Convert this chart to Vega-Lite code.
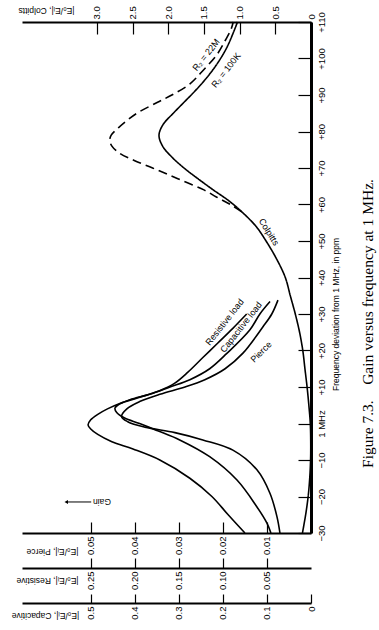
{
  "$schema": "https://vega.github.io/schema/vega-lite/v6.json",
  "width": 289,
  "height": 511,
  "autosize": {"type": "none"},
  "padding": {"left": 22, "top": 22, "right": 68, "bottom": 97},
  "background": "white",
  "title": {
    "text": "Figure 7.3.\u00a0\u00a0\u00a0\u00a0Gain versus frequency at 1 MHz.",
    "orient": "right",
    "angle": 270,
    "anchor": "middle",
    "offset": 6,
    "dx": -46,
    "font": "Liberation Serif",
    "fontSize": 15.5,
    "fontWeight": "normal",
    "color": "black"
  },
  "config": {
    "view": {"stroke": null},
    "axis": {
      "labelFont": "Liberation Sans",
      "labelFontSize": 9.5,
      "labelColor": "black",
      "titleFont": "Liberation Sans",
      "titleFontSize": 8.5,
      "titleFontWeight": "normal",
      "titleColor": "black",
      "domainColor": "black",
      "tickColor": "black",
      "tickWidth": 1.2,
      "grid": false,
      "labelFlush": false,
      "labelOverlap": false,
      "labelBound": false
    },
    "text": {"font": "Liberation Sans", "fontSize": 9, "color": "black"}
  },
  "datasets": {
    "colpitts": [
      {"s": "R2 = 100K", "f": -30, "g": 0.12},
      {"s": "R2 = 100K", "f": -25, "g": 0.075},
      {"s": "R2 = 100K", "f": -20, "g": 0.04},
      {"s": "R2 = 100K", "f": -15, "g": 0.018},
      {"s": "R2 = 100K", "f": -10, "g": 0.006},
      {"s": "R2 = 100K", "f": -5, "g": 0.004},
      {"s": "R2 = 100K", "f": 0, "g": 0.01},
      {"s": "R2 = 100K", "f": 5, "g": 0.03},
      {"s": "R2 = 100K", "f": 10, "g": 0.055},
      {"s": "R2 = 100K", "f": 15, "g": 0.085},
      {"s": "R2 = 100K", "f": 20, "g": 0.115},
      {"s": "R2 = 100K", "f": 25, "g": 0.16},
      {"s": "R2 = 100K", "f": 30, "g": 0.22},
      {"s": "R2 = 100K", "f": 35, "g": 0.29},
      {"s": "R2 = 100K", "f": 40, "g": 0.36},
      {"s": "R2 = 100K", "f": 45, "g": 0.48},
      {"s": "R2 = 100K", "f": 50, "g": 0.63},
      {"s": "R2 = 100K", "f": 54, "g": 0.77},
      {"s": "R2 = 100K", "f": 58, "g": 0.97},
      {"s": "R2 = 100K", "f": 61, "g": 1.15},
      {"s": "R2 = 100K", "f": 64, "g": 1.37},
      {"s": "R2 = 100K", "f": 67, "g": 1.58},
      {"s": "R2 = 100K", "f": 70, "g": 1.78},
      {"s": "R2 = 100K", "f": 73, "g": 1.95},
      {"s": "R2 = 100K", "f": 76, "g": 2.08},
      {"s": "R2 = 100K", "f": 79, "g": 2.13},
      {"s": "R2 = 100K", "f": 82, "g": 2.07},
      {"s": "R2 = 100K", "f": 85, "g": 1.93},
      {"s": "R2 = 100K", "f": 88, "g": 1.78},
      {"s": "R2 = 100K", "f": 91, "g": 1.63},
      {"s": "R2 = 100K", "f": 95, "g": 1.45},
      {"s": "R2 = 100K", "f": 99, "g": 1.3},
      {"s": "R2 = 100K", "f": 103, "g": 1.18},
      {"s": "R2 = 100K", "f": 107, "g": 1.09},
      {"s": "R2 = 100K", "f": 110, "g": 1.03},
      {"s": "R2 = 22M", "f": 58, "g": 0.97},
      {"s": "R2 = 22M", "f": 60, "g": 1.13},
      {"s": "R2 = 22M", "f": 62, "g": 1.32},
      {"s": "R2 = 22M", "f": 64, "g": 1.5},
      {"s": "R2 = 22M", "f": 66, "g": 1.74},
      {"s": "R2 = 22M", "f": 68, "g": 1.98},
      {"s": "R2 = 22M", "f": 70, "g": 2.22},
      {"s": "R2 = 22M", "f": 72, "g": 2.47},
      {"s": "R2 = 22M", "f": 74, "g": 2.68},
      {"s": "R2 = 22M", "f": 76, "g": 2.79},
      {"s": "R2 = 22M", "f": 77.5, "g": 2.82},
      {"s": "R2 = 22M", "f": 79, "g": 2.8},
      {"s": "R2 = 22M", "f": 81, "g": 2.7},
      {"s": "R2 = 22M", "f": 83, "g": 2.58},
      {"s": "R2 = 22M", "f": 85, "g": 2.44},
      {"s": "R2 = 22M", "f": 88, "g": 2.15},
      {"s": "R2 = 22M", "f": 90, "g": 1.95},
      {"s": "R2 = 22M", "f": 93, "g": 1.7},
      {"s": "R2 = 22M", "f": 97, "g": 1.5},
      {"s": "R2 = 22M", "f": 101, "g": 1.32},
      {"s": "R2 = 22M", "f": 105, "g": 1.2},
      {"s": "R2 = 22M", "f": 108, "g": 1.12},
      {"s": "R2 = 22M", "f": 110, "g": 1.09}
    ],
    "pierce": [
      {"f": -30, "g": 0.00705},
      {"f": -25.5, "g": 0.00773},
      {"f": -19.1, "g": 0.00932},
      {"f": -12.7, "g": 0.01227},
      {"f": -7.3, "g": 0.01773},
      {"f": -4.5, "g": 0.02455},
      {"f": -2.5, "g": 0.0309},
      {"f": -1, "g": 0.0377},
      {"f": 0.5, "g": 0.0416},
      {"f": 1.9, "g": 0.043},
      {"f": 4, "g": 0.0418},
      {"f": 6, "g": 0.0389},
      {"f": 8, "g": 0.0343},
      {"f": 10, "g": 0.0286},
      {"f": 12, "g": 0.0241},
      {"f": 15, "g": 0.0195},
      {"f": 19.2, "g": 0.0155},
      {"f": 26.5, "g": 0.0109},
      {"f": 30, "g": 0.0089},
      {"f": 33.8, "g": 0.0075}
    ],
    "resistive": [
      {"f": -30, "g": 0.075},
      {"f": -25, "g": 0.094},
      {"f": -20, "g": 0.1125},
      {"f": -15, "g": 0.1375},
      {"f": -10, "g": 0.1716},
      {"f": -7, "g": 0.202},
      {"f": -5, "g": 0.226},
      {"f": -3, "g": 0.242},
      {"f": -1.5, "g": 0.25},
      {"f": -0.4, "g": 0.253},
      {"f": 1, "g": 0.25},
      {"f": 2.5, "g": 0.242},
      {"f": 4, "g": 0.231},
      {"f": 5.5, "g": 0.217},
      {"f": 7, "g": 0.197},
      {"f": 9, "g": 0.172},
      {"f": 11, "g": 0.155},
      {"f": 14, "g": 0.14},
      {"f": 18, "g": 0.123},
      {"f": 22, "g": 0.106},
      {"f": 26, "g": 0.089},
      {"f": 30, "g": 0.073}
    ],
    "capacitive": [
      {"f": -30, "g": 0.091},
      {"f": -27.3, "g": 0.1},
      {"f": -22.8, "g": 0.123},
      {"f": -15.5, "g": 0.168},
      {"f": -9.1, "g": 0.23},
      {"f": -4.5, "g": 0.298},
      {"f": -2, "g": 0.348},
      {"f": 0, "g": 0.389},
      {"f": 1.5, "g": 0.423},
      {"f": 3, "g": 0.441},
      {"f": 4.2, "g": 0.445},
      {"f": 5, "g": 0.439},
      {"f": 6.5, "g": 0.411},
      {"f": 8, "g": 0.366},
      {"f": 10, "g": 0.32},
      {"f": 12, "g": 0.275},
      {"f": 15, "g": 0.23},
      {"f": 19.2, "g": 0.191},
      {"f": 25.6, "g": 0.139},
      {"f": 30, "g": 0.116},
      {"f": 33.4, "g": 0.093}
    ],
    "notes": [
      {"t": "R₂ = 22M", "g": 1.47, "f": 101},
      {"t": "R₂ = 100K", "g": 1.19, "f": 96.8},
      {"t": "Resistive load", "g": 1.21, "f": 27.8},
      {"t": "Capacitive load", "g": 0.98, "f": 26.4},
      {"t": "Pierce", "g": 0.7, "f": 19.6},
      {"t": "Colpitts", "g": 0.59, "f": 52.5},
      {"t": "Gain", "g": 2.93, "f": -21.5}
    ],
    "arrow": [
      {"g": 3.08, "g2": 3.43, "f": -21.5}
    ]
  },
  "encoding": {
    "y": {
      "field": "f",
      "type": "quantitative",
      "scale": {"domain": [-30, 110], "nice": false, "zero": false},
      "axis": {
        "orient": "right",
        "values": [-30, -20, -10, 0, 10, 20, 30, 40, 50, 60, 70, 80, 90, 100, 110],
        "labelExpr": "datum.value > 0 ? '+' + datum.value : (datum.value == 0 ? '1 MHz' : '−' + abs(datum.value))",
        "labelAngle": 270,
        "labelAlign": "center",
        "labelBaseline": "top",
        "tickSize": -13,
        "labelPadding": 18,
        "domainWidth": 3,
        "title": "Frequency deviation from 1 MHz, in ppm",
        "titleAngle": 270,
        "titleAlign": "center",
        "titleBaseline": "middle",
        "titleX": 24,
        "titleY": 292
      }
    }
  },
  "layer": [
    {
      "data": {"name": "colpitts"},
      "mark": {"type": "line", "interpolate": "catmull-rom", "strokeWidth": 1.6, "color": "black"},
      "encoding": {
        "x": {
          "field": "g",
          "type": "quantitative",
          "scale": {"domain": [0, 4.05], "reverse": true, "nice": false, "zero": false},
          "axis": {
            "orient": "top",
            "values": [0, 0.5, 1, 1.5, 2, 2.5, 3],
            "labelExpr": "datum.value == 0 ? '0' : format(datum.value, '.1f')",
            "labelAngle": 270,
            "labelAlign": "left",
            "labelBaseline": "middle",
            "tickSize": -12,
            "labelPadding": 15,
            "domainWidth": 2,
            "title": "|E₀/Eᵢ|, Colpitts",
            "titleAngle": 180,
            "titleAlign": "center",
            "titleBaseline": "middle",
            "titleX": 24,
            "titleY": -12
          }
        },
        "detail": {"field": "s"},
        "order": {"field": "f", "type": "quantitative"},
        "strokeDash": {
          "field": "s",
          "type": "nominal",
          "scale": {"domain": ["R2 = 100K", "R2 = 22M"], "range": [[1, 0], [9, 5]]},
          "legend": null
        }
      }
    },
    {
      "data": {"name": "pierce"},
      "mark": {"type": "line", "interpolate": "catmull-rom", "strokeWidth": 1.6, "color": "black"},
      "encoding": {
        "x": {
          "field": "g",
          "type": "quantitative",
          "scale": {"domain": [0, 0.0656], "reverse": true, "nice": false, "zero": false},
          "axis": {
            "orient": "bottom",
            "offset": 0,
            "values": [0.01, 0.02, 0.03, 0.04, 0.05],
            "format": ".2f",
            "labelAngle": 270,
            "labelAlign": "right",
            "labelBaseline": "middle",
            "tickSize": -11,
            "labelPadding": 14,
            "domainWidth": 2,
            "title": "|E₀/Eᵢ|, Pierce",
            "titleAngle": 180,
            "titleAlign": "center",
            "titleBaseline": "middle",
            "titleX": 30,
            "titleY": 18
          }
        },
        "order": {"field": "f", "type": "quantitative"}
      }
    },
    {
      "data": {"name": "resistive"},
      "mark": {"type": "line", "interpolate": "catmull-rom", "strokeWidth": 1.6, "color": "black"},
      "encoding": {
        "x": {
          "field": "g",
          "type": "quantitative",
          "scale": {"domain": [0, 0.328], "reverse": true, "nice": false, "zero": false},
          "axis": {
            "orient": "bottom",
            "offset": 35,
            "values": [0.05, 0.1, 0.15, 0.2, 0.25],
            "format": ".2f",
            "labelAngle": 270,
            "labelAlign": "right",
            "labelBaseline": "middle",
            "tickSize": -10,
            "labelPadding": 13,
            "domainWidth": 2,
            "title": "|E₀/Eᵢ|, Resistive",
            "titleAngle": 180,
            "titleAlign": "center",
            "titleBaseline": "middle",
            "titleX": 25,
            "titleY": 12
          }
        },
        "order": {"field": "f", "type": "quantitative"}
      }
    },
    {
      "data": {"name": "capacitive"},
      "mark": {"type": "line", "interpolate": "catmull-rom", "strokeWidth": 1.6, "color": "black"},
      "encoding": {
        "x": {
          "field": "g",
          "type": "quantitative",
          "scale": {"domain": [0, 0.656], "reverse": true, "nice": false, "zero": false},
          "axis": {
            "orient": "bottom",
            "offset": 70,
            "values": [0, 0.1, 0.2, 0.3, 0.4, 0.5],
            "labelExpr": "datum.value == 0 ? '0' : format(datum.value, '.1f')",
            "labelAngle": 270,
            "labelAlign": "right",
            "labelBaseline": "middle",
            "tickSize": -9,
            "labelPadding": 12,
            "domainWidth": 2,
            "title": "|E₀/Eᵢ|, Capacitive",
            "titleAngle": 180,
            "titleAlign": "center",
            "titleBaseline": "middle",
            "titleX": 23,
            "titleY": 12
          }
        },
        "order": {"field": "f", "type": "quantitative"}
      }
    },
    {
      "mark": {"type": "rule", "strokeDash": [12, 6], "strokeWidth": 1.4, "color": "black"},
      "encoding": {
        "x": {"datum": 0, "type": "quantitative", "scale": {"domain": [0, 4.05], "reverse": true, "nice": false, "zero": false}, "axis": null},
        "x2": {"datum": 3.3},
        "y": {"datum": 0, "type": "quantitative"}
      }
    },
    {
      "mark": {"type": "rule", "strokeWidth": 3, "color": "black"},
      "encoding": {
        "x": {"datum": 0, "type": "quantitative", "scale": {"domain": [0, 4.05], "reverse": true, "nice": false, "zero": false}, "axis": null},
        "y": {"datum": -30, "type": "quantitative"},
        "y2": {"datum": -49.2}
      }
    },
    {
      "mark": {"type": "rule", "strokeWidth": 2, "color": "#888888"},
      "encoding": {
        "x": {"datum": 3.095, "type": "quantitative", "scale": {"domain": [0, 4.05], "reverse": true, "nice": false, "zero": false}, "axis": null},
        "x2": {"datum": 0.196},
        "y": {"datum": -35.5, "type": "quantitative"}
      }
    },
    {
      "data": {"name": "notes"},
      "transform": [{"filter": "datum.t == 'R₂ = 22M' || datum.t == 'R₂ = 100K' || datum.t == 'Resistive load' || datum.t == 'Capacitive load'"}],
      "mark": {"type": "text", "angle": 308, "align": "center", "baseline": "middle"},
      "encoding": {
        "x": {"field": "g", "type": "quantitative", "scale": {"domain": [0, 4.05], "reverse": true, "nice": false, "zero": false}, "axis": null},
        "text": {"field": "t"}
      }
    },
    {
      "data": {"name": "notes"},
      "transform": [{"filter": "datum.t == 'Pierce'"}],
      "mark": {"type": "text", "angle": 315, "align": "center", "baseline": "middle"},
      "encoding": {
        "x": {"field": "g", "type": "quantitative", "scale": {"domain": [0, 4.05], "reverse": true, "nice": false, "zero": false}, "axis": null},
        "text": {"field": "t"}
      }
    },
    {
      "data": {"name": "notes"},
      "transform": [{"filter": "datum.t == 'Colpitts'"}],
      "mark": {"type": "text", "angle": 58, "align": "center", "baseline": "middle"},
      "encoding": {
        "x": {"field": "g", "type": "quantitative", "scale": {"domain": [0, 4.05], "reverse": true, "nice": false, "zero": false}, "axis": null},
        "text": {"field": "t"}
      }
    },
    {
      "data": {"name": "notes"},
      "transform": [{"filter": "datum.t == 'Gain'"}],
      "mark": {"type": "text", "angle": 180, "align": "center", "baseline": "middle", "fontSize": 8.5},
      "encoding": {
        "x": {"field": "g", "type": "quantitative", "scale": {"domain": [0, 4.05], "reverse": true, "nice": false, "zero": false}, "axis": null},
        "text": {"field": "t"}
      }
    },
    {
      "data": {"name": "arrow"},
      "mark": {"type": "rule", "strokeWidth": 1, "color": "black"},
      "encoding": {
        "x": {"field": "g", "type": "quantitative", "scale": {"domain": [0, 4.05], "reverse": true, "nice": false, "zero": false}, "axis": null},
        "x2": {"field": "g2"}
      }
    },
    {
      "data": {"name": "arrow"},
      "mark": {"type": "point", "shape": "triangle-left", "filled": true, "size": 16, "color": "black", "opacity": 1},
      "encoding": {
        "x": {"field": "g2", "type": "quantitative", "scale": {"domain": [0, 4.05], "reverse": true, "nice": false, "zero": false}, "axis": null}
      }
    }
  ],
  "resolve": {"scale": {"x": "independent"}, "axis": {"x": "independent"}}
}
